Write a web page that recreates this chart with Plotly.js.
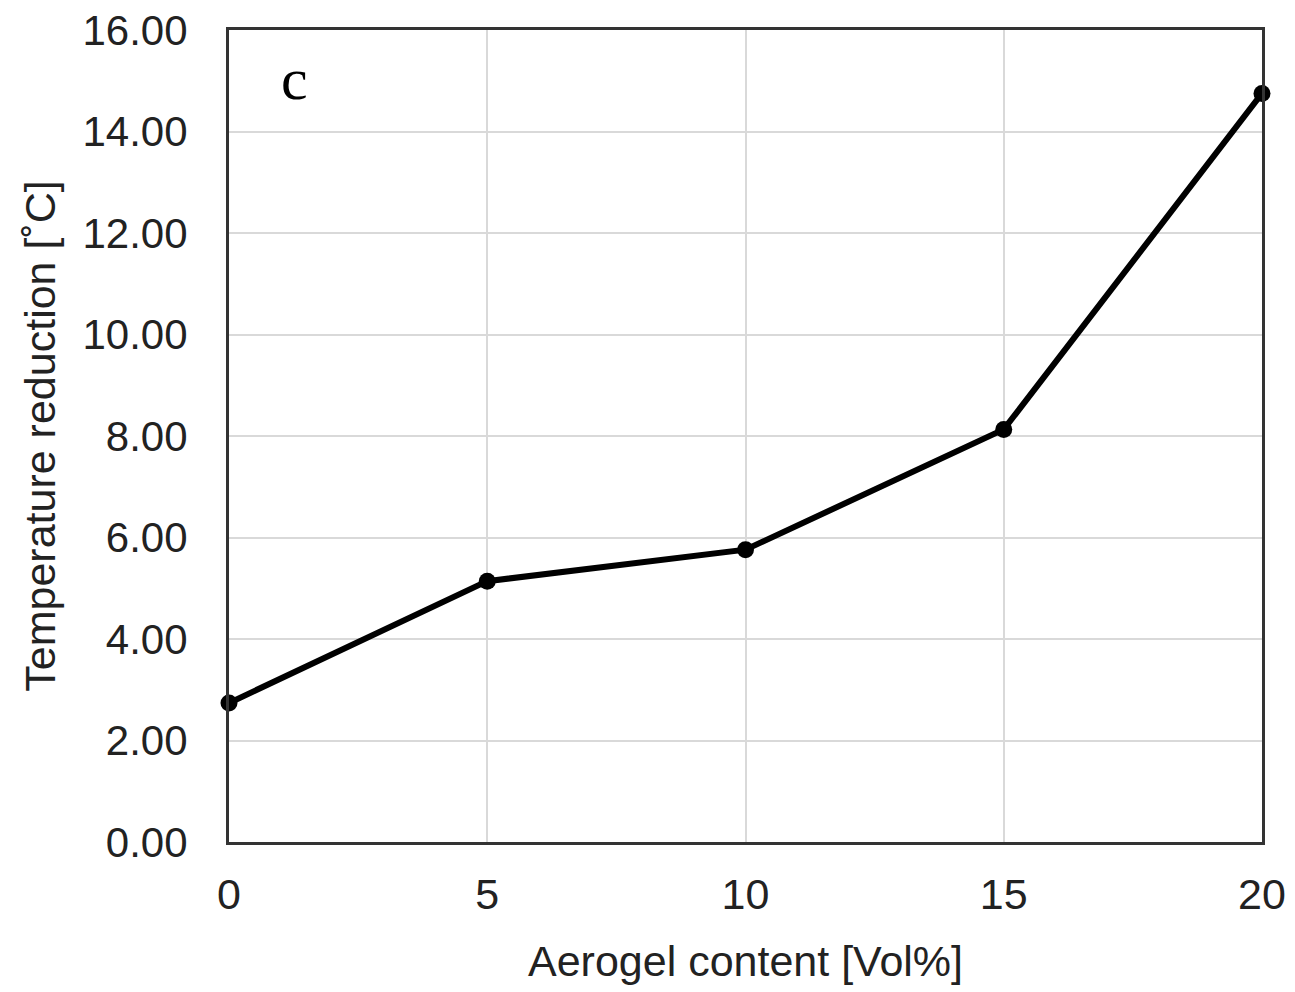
<!DOCTYPE html>
<html><head><meta charset="utf-8">
<script src="https://cdn.plot.ly/plotly-3.0.1.min.js"></script>
<style>html,body{margin:0;padding:0;background:#fff}#chart{width:1295px;height:992px}</style>
</head><body><div id="chart"></div>
<script>
const aerogelContent = [0, 5, 10, 15, 20];
const temperatureReduction = [2.74, 5.14, 5.76, 8.13, 14.75];
const yTickValues = [0, 2, 4, 6, 8, 10, 12, 14, 16];
const yTickLabels = ["0.00","2.00","4.00","6.00","8.00","10.00","12.00","14.00","16.00"];
const xTickValues = [0, 5, 10, 15, 20];

const trace = {
  x: aerogelContent, y: temperatureReduction, type: 'scatter', mode: 'lines+markers',
  line: {color: '#000', width: 6},
  marker: {color: '#000', size: 17},
  cliponaxis: false, showlegend: false
};
const fam = 'Liberation Sans, Arial, sans-serif';
const layout = {
  width: 1295, height: 992,
  margin: {l: 229, r: 33, t: 30, b: 150},
  paper_bgcolor: '#fff', plot_bgcolor: '#fff',
  font: {family: fam, color: '#222'},
  xaxis: {
    range: [0, 20], tickvals: xTickValues, ticktext: xTickValues.map(String),
    showgrid: true, gridcolor: '#d9d9d9', gridwidth: 2,
    showline: true, linecolor: '#333', linewidth: 3, mirror: true,
    zeroline: false, ticks: 'outside', ticklen: 12, tickcolor: 'rgba(0,0,0,0)',
    tickfont: {size: 43, color: '#222', family: fam},
    title: {text: 'Aerogel content [Vol%]', font: {size: 43, color: '#222', family: fam}, standoff: 30}
  },
  yaxis: {
    range: [0, 16], tickvals: yTickValues, ticktext: yTickLabels,
    showgrid: true, gridcolor: '#d9d9d9', gridwidth: 2,
    showline: true, linecolor: '#333', linewidth: 3, mirror: true,
    zeroline: false, ticks: 'outside', ticklen: 30, tickcolor: 'rgba(0,0,0,0)',
    tickfont: {size: 42, color: '#222', family: fam},
    title: {text: 'Temperature reduction [˚C]', font: {size: 43, color: '#222', family: fam}, standoff: 14}
  },
  annotations: [{
    text: 'c', xref: 'paper', yref: 'paper', x: 0.063, y: 0.94, xanchor: 'center', yanchor: 'middle',
    showarrow: false, font: {family: 'Liberation Serif, Times New Roman, serif', size: 60, color: '#000'}
  }]
};
Plotly.newPlot('chart', [trace], layout, {displayModeBar: false, staticPlot: true});
</script></body></html>
